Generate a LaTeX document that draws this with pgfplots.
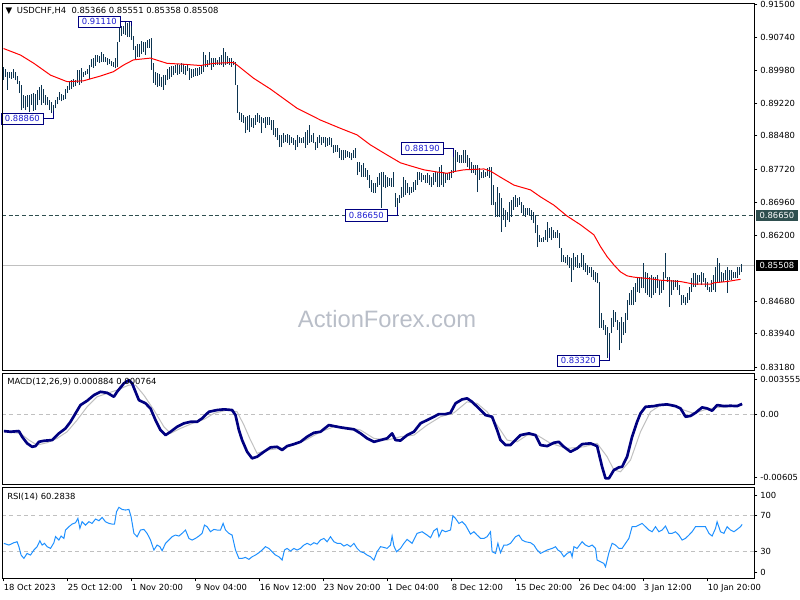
\documentclass[border=0pt]{standalone}
\usepackage{fontspec}
\setmainfont{DejaVu Sans}
\newfontfamily\wmfont{Liberation Sans}
\usepackage{pgfplots}
\usepackage{pgfplotstable}
\pgfplotsset{compat=1.18}
\definecolor{barcol}{RGB}{12,52,80}
\definecolor{macdcol}{RGB}{0,0,128}
\definecolor{sigcol}{RGB}{192,192,192}
\definecolor{rsicol}{RGB}{30,144,255}
\definecolor{lvlcol}{RGB}{47,79,79}
\definecolor{annotxt}{RGB}{30,30,210}
\definecolor{wmcol}{RGB}{185,190,200}
\newcommand\fs{\fontsize{6.3}{7.5}\selectfont}

\pgfplotstableread{
i hi lo
0 0.9006 0.8976
1 0.9002 0.8983
2 0.8995 0.8953
3 0.8995 0.8980
4 0.8995 0.8978
5 0.9001 0.8981
6 0.8995 0.8975
7 0.8985 0.8967
8 0.8974 0.8946
9 0.8965 0.8907
10 0.8941 0.8911
11 0.8939 0.8907
12 0.8941 0.8914
13 0.8941 0.8903
14 0.8944 0.8918
15 0.8946 0.8905
16 0.8944 0.8907
17 0.8953 0.8918
18 0.8960 0.8930
19 0.8964 0.8918
20 0.8955 0.8923
21 0.8941 0.8918
22 0.8937 0.8918
23 0.8930 0.8907
24 0.8925 0.8900
25 0.8918 0.8886
26 0.8930 0.8911
27 0.8937 0.8920
28 0.8948 0.8930
29 0.8944 0.8927
30 0.8941 0.8930
31 0.8955 0.8932
32 0.8962 0.8946
33 0.8971 0.8953
34 0.8976 0.8955
35 0.8978 0.8960
36 0.8976 0.8962
37 0.8999 0.8969
38 0.8999 0.8964
39 0.9004 0.8969
40 0.8994 0.8983
41 0.8996 0.8987
42 0.9001 0.8990
43 0.9010 0.8978
44 0.9024 0.9006
45 0.9026 0.9004
46 0.9033 0.9008
47 0.9033 0.9017
48 0.9031 0.9015
49 0.9040 0.9017
50 0.9036 0.9017
51 0.9029 0.9017
52 0.9026 0.9010
53 0.9024 0.9013
54 0.9019 0.9008
55 0.9017 0.9006
56 0.9026 0.9003
57 0.9063 0.9006
58 0.9107 0.9063
59 0.9100 0.9077
60 0.9100 0.9081
61 0.9109 0.9079
62 0.9107 0.9075
63 0.9109 0.9074
64 0.9111 0.9068
65 0.9077 0.9045
66 0.9054 0.9022
67 0.9059 0.9029
68 0.9059 0.9028
69 0.9065 0.9036
70 0.9063 0.9040
71 0.9063 0.9034
72 0.9068 0.9049
73 0.9070 0.9050
74 0.9072 0.8999
75 0.9015 0.8969
76 0.8994 0.8964
77 0.8992 0.8960
78 0.8990 0.8962
79 0.8983 0.8960
80 0.8987 0.8953
81 0.8987 0.8964
82 0.9001 0.8976
83 0.9006 0.8978
84 0.9008 0.8983
85 0.9008 0.8987
86 0.9010 0.8992
87 0.9013 0.8987
88 0.9010 0.8990
89 0.9015 0.8994
90 0.9013 0.8990
91 0.9008 0.8987
92 0.9013 0.8996
93 0.9003 0.8976
94 0.9001 0.8980
95 0.9001 0.8983
96 0.9003 0.8985
97 0.9003 0.8985
98 0.9006 0.8987
99 0.9010 0.8990
100 0.9040 0.8994
101 0.9033 0.9006
102 0.9022 0.9006
103 0.9040 0.9010
104 0.9026 0.8999
105 0.9026 0.9006
106 0.9026 0.9010
107 0.9022 0.9010
108 0.9029 0.9010
109 0.9033 0.9010
110 0.9049 0.9006
111 0.9040 0.9010
112 0.9031 0.9013
113 0.9026 0.9010
114 0.9026 0.9006
115 0.9019 0.9010
116 0.9017 0.8964
117 0.8964 0.8901
118 0.8902 0.8884
119 0.8900 0.8880
120 0.8896 0.8877
121 0.8890 0.8854
122 0.8893 0.8861
123 0.8896 0.8857
124 0.8889 0.8868
125 0.8889 0.8866
126 0.8896 0.8873
127 0.8900 0.8880
128 0.8896 0.8877
129 0.8890 0.8854
130 0.8889 0.8877
131 0.8890 0.8866
132 0.8890 0.8873
133 0.8890 0.8873
134 0.8884 0.8861
135 0.8884 0.8850
136 0.8866 0.8845
137 0.8866 0.8838
138 0.8850 0.8822
139 0.8850 0.8822
140 0.8854 0.8831
141 0.8850 0.8834
142 0.8852 0.8831
143 0.8850 0.8827
144 0.8845 0.8831
145 0.8843 0.8827
146 0.8838 0.8815
147 0.8850 0.8822
148 0.8845 0.8831
149 0.8843 0.8831
150 0.8845 0.8831
151 0.8857 0.8820
152 0.8861 0.8827
153 0.8873 0.8831
154 0.8850 0.8834
155 0.8854 0.8831
156 0.8834 0.8815
157 0.8845 0.8820
158 0.8850 0.8831
159 0.8845 0.8827
160 0.8845 0.8831
161 0.8845 0.8822
162 0.8843 0.8825
163 0.8845 0.8827
164 0.8843 0.8822
165 0.8827 0.8808
166 0.8827 0.8811
167 0.8827 0.8811
168 0.8820 0.8797
169 0.8815 0.8792
170 0.8815 0.8792
171 0.8815 0.8797
172 0.8813 0.8799
173 0.8811 0.8797
174 0.8808 0.8792
175 0.8815 0.8797
176 0.8820 0.8797
177 0.8788 0.8758
178 0.8788 0.8765
179 0.8781 0.8754
180 0.8786 0.8754
181 0.8774 0.8754
182 0.8770 0.8747
183 0.8758 0.8728
184 0.8747 0.8719
185 0.8740 0.8717
186 0.8740 0.8717
187 0.8754 0.8731
188 0.8763 0.8735
189 0.8765 0.8682
190 0.8765 0.8731
191 0.8758 0.8728
192 0.8754 0.8731
193 0.8751 0.8733
194 0.8751 0.8731
195 0.8765 0.8731
196 0.8717 0.8685
197 0.8705 0.8665
198 0.8712 0.8694
199 0.8731 0.8705
200 0.8754 0.8708
201 0.8747 0.8712
202 0.8740 0.8717
203 0.8731 0.8712
204 0.8731 0.8717
205 0.8742 0.8719
206 0.8747 0.8724
207 0.8765 0.8735
208 0.8765 0.8747
209 0.8763 0.8742
210 0.8758 0.8747
211 0.8758 0.8740
212 0.8763 0.8740
213 0.8758 0.8735
214 0.8754 0.8731
215 0.8763 0.8735
216 0.8765 0.8742
217 0.8765 0.8731
218 0.8776 0.8731
219 0.8781 0.8735
220 0.8765 0.8731
221 0.8763 0.8740
222 0.8763 0.8747
223 0.8765 0.8747
224 0.8770 0.8751
225 0.8819 0.8763
226 0.8815 0.8765
227 0.8811 0.8788
228 0.8804 0.8786
229 0.8804 0.8786
230 0.8815 0.8786
231 0.8815 0.8786
232 0.8804 0.8776
233 0.8797 0.8770
234 0.8788 0.8763
235 0.8781 0.8763
236 0.8781 0.8758
237 0.8781 0.8719
238 0.8774 0.8747
239 0.8765 0.8751
240 0.8770 0.8751
241 0.8765 0.8754
242 0.8774 0.8756
243 0.8776 0.8751
244 0.8776 0.8689
245 0.8735 0.8689
246 0.8696 0.8662
247 0.8731 0.8662
248 0.8717 0.8662
249 0.8705 0.8627
250 0.8682 0.8655
251 0.8678 0.8639
252 0.8673 0.8655
253 0.8696 0.8650
254 0.8701 0.8662
255 0.8708 0.8678
256 0.8712 0.8685
257 0.8705 0.8685
258 0.8708 0.8689
259 0.8696 0.8671
260 0.8689 0.8666
261 0.8682 0.8662
262 0.8682 0.8666
263 0.8682 0.8666
264 0.8678 0.8655
265 0.8673 0.8648
266 0.8666 0.8625
267 0.8644 0.8593
268 0.8621 0.8605
269 0.8614 0.8605
270 0.8616 0.8605
271 0.8632 0.8609
272 0.8650 0.8605
273 0.8637 0.8614
274 0.8639 0.8609
275 0.8632 0.8614
276 0.8627 0.8614
277 0.8632 0.8614
278 0.8625 0.8591
279 0.8591 0.8559
280 0.8575 0.8559
281 0.8570 0.8556
282 0.8575 0.8552
283 0.8570 0.8545
284 0.8568 0.8513
285 0.8579 0.8540
286 0.8570 0.8547
287 0.8575 0.8545
288 0.8556 0.8545
289 0.8579 0.8547
290 0.8575 0.8540
291 0.8556 0.8536
292 0.8552 0.8529
293 0.8547 0.8534
294 0.8547 0.8524
295 0.8540 0.8518
296 0.8536 0.8513
297 0.8534 0.8510
298 0.8513 0.8408
299 0.8442 0.8408
300 0.8426 0.8403
301 0.8415 0.8392
302 0.8410 0.8339
303 0.8396 0.8332
304 0.8430 0.8396
305 0.8449 0.8410
306 0.8444 0.8421
307 0.8426 0.8403
308 0.8421 0.8357
309 0.8433 0.8373
310 0.8421 0.8392
311 0.8442 0.8396
312 0.8472 0.8426
313 0.8488 0.8460
314 0.8495 0.8460
315 0.8501 0.8460
316 0.8511 0.8467
317 0.8524 0.8490
318 0.8522 0.8488
319 0.8524 0.8499
320 0.8556 0.8499
321 0.8536 0.8488
322 0.8534 0.8483
323 0.8524 0.8479
324 0.8529 0.8476
325 0.8524 0.8483
326 0.8524 0.8488
327 0.8529 0.8499
328 0.8518 0.8483
329 0.8518 0.8488
330 0.8536 0.8495
331 0.8579 0.8522
332 0.8524 0.8513
333 0.8524 0.8456
334 0.8518 0.8483
335 0.8518 0.8495
336 0.8518 0.8501
337 0.8518 0.8495
338 0.8506 0.8483
339 0.8483 0.8460
340 0.8483 0.8465
341 0.8479 0.8460
342 0.8488 0.8465
343 0.8501 0.8472
344 0.8522 0.8490
345 0.8534 0.8501
346 0.8534 0.8501
347 0.8529 0.8506
348 0.8529 0.8513
349 0.8536 0.8506
350 0.8534 0.8513
351 0.8522 0.8501
352 0.8513 0.8495
353 0.8501 0.8490
354 0.8518 0.8490
355 0.8529 0.8495
356 0.8547 0.8490
357 0.8568 0.8513
358 0.8556 0.8511
359 0.8536 0.8513
360 0.8534 0.8513
361 0.8540 0.8518
362 0.8547 0.8488
363 0.8540 0.8518
364 0.8540 0.8518
365 0.8536 0.8522
366 0.8536 0.8522
367 0.8547 0.8522
368 0.8547 0.8529
369 0.85551 0.85358
}\bars

\pgfplotstableread{
i v
0 0.9048
8.5 0.9033
15.2 0.9014
23.5 0.8987
31.8 0.8972
40 0.8974
48.5 0.8985
55 0.8995
60 0.9010
65 0.9022
73.5 0.9026
81.8 0.9014
90 0.9012
98.5 0.9009
105 0.9014
115 0.9016
116.8 0.9010
125 0.8980
133.5 0.8955
146.8 0.8911
158.5 0.8884
168.5 0.8865
176.8 0.8850
183.5 0.8827
191.8 0.8804
198.5 0.8786
203.5 0.8779
210.2 0.8770
216.8 0.8765
221.8 0.8762
225.2 0.8766
230.2 0.8770
240.2 0.8772
243.5 0.8767
248.5 0.8753
255.2 0.8735
263.5 0.8724
268.5 0.8708
275.2 0.8689
281.8 0.8664
288.5 0.8644
295.2 0.8621
298.5 0.8594
301.8 0.8571
305.2 0.8552
308.5 0.8536
311.8 0.8527
315.2 0.8524
321.8 0.8521
328.5 0.8517
338.5 0.8514
345.2 0.8508
353.5 0.8508
355.2 0.8511
361.8 0.8514
368.5 0.8519
}\ma

\pgfplotstableread{
i v
0.2 -0.00147
3.5 -0.00153
7.7 -0.00147
9.3 -0.00196
11.8 -0.00253
14.3 -0.00283
16 -0.00277
17.7 -0.00240
20.2 -0.00231
24.3 -0.00225
26 -0.00196
27.7 -0.00167
31 -0.00124
33.5 -0.00067
36 0.00006
38.5 0.00078
41.8 0.00115
45.2 0.00164
48.5 0.00193
51.8 0.00184
55.2 0.00150
56.8 0.00193
60.2 0.00266
62.7 0.00294
64.3 0.00266
66 0.00193
67.7 0.00121
71 0.00093
73.5 0.00049
76 -0.00052
78.5 -0.00138
81 -0.00182
83.5 -0.00153
86.8 -0.00110
90.2 -0.00080
93.5 -0.00067
96.8 -0.00067
99.3 -0.00037
102.7 0.00020
106.8 0.00035
110.2 0.00041
114.3 0.00035
116 -0.00009
117.7 -0.00138
119.3 -0.00225
121.8 -0.00326
124.3 -0.00383
126.8 -0.00369
130.2 -0.00326
133.5 -0.00288
136.8 -0.00283
139.3 -0.00311
141.8 -0.00277
145.2 -0.00260
148.5 -0.00240
151.8 -0.00196
155.2 -0.00162
158.5 -0.00153
162.7 -0.00095
165.2 -0.00104
168.5 -0.00115
171.8 -0.00124
175.2 -0.00132
178.5 -0.00167
181.8 -0.00210
185.2 -0.00240
188.5 -0.00225
191.8 -0.00210
194.3 -0.00167
196 -0.00225
198.5 -0.00229
201.8 -0.00182
205.2 -0.00153
208.5 -0.00080
211.8 -0.00052
215.2 -0.00023
217.7 0.00000
221 0.00000
223.5 0.00011
226 0.00093
229.3 0.00127
231.8 0.00136
234.3 0.00106
237.7 0.00049
241 -0.00009
244.3 -0.00023
246.8 -0.00138
248.5 -0.00225
251 -0.00268
253.5 -0.00268
256 -0.00225
258.5 -0.00182
262.7 -0.00167
266 -0.00182
268.5 -0.00268
271.8 -0.00277
275.2 -0.00248
277.7 -0.00240
280.2 -0.00283
283.5 -0.00326
286.8 -0.00297
289.3 -0.00260
293.5 -0.00253
296.8 -0.00277
299.3 -0.00456
301 -0.00556
302.7 -0.00556
305.2 -0.00484
307.7 -0.00461
309.3 -0.00456
311.8 -0.00369
314.3 -0.00196
316.8 -0.00067
318.5 0.00006
321 0.00063
325.2 0.00069
327.7 0.00078
331.8 0.00084
336 0.00069
338.5 0.00049
341 -0.00023
343.5 -0.00016
346 0.00011
349.3 0.00058
351.8 0.00049
354.3 0.00029
356.8 0.00078
360.2 0.00069
363.5 0.00072
366.8 0.00069
369.3 0.00088
}\macd

\pgfplotstableread{
i v
0.2 -0.00153
8.5 -0.00167
12.7 -0.00225
16.8 -0.00268
21.8 -0.00248
26.8 -0.00210
31.8 -0.00153
36.8 -0.00052
41.8 0.00063
46.8 0.00150
51.8 0.00179
56.8 0.00208
62.7 0.00251
66 0.00251
70.2 0.00164
75.2 0.00035
80.2 -0.00110
83.5 -0.00167
88.5 -0.00124
95.2 -0.00075
100.2 -0.00046
105.2 0.00006
111.8 0.00035
116.8 0.00020
120.2 -0.00095
123.5 -0.00225
126.8 -0.00340
131.8 -0.00311
138.5 -0.00297
145.2 -0.00268
151.8 -0.00219
158.5 -0.00153
165.2 -0.00110
171.8 -0.00115
178.5 -0.00138
185.2 -0.00210
191.8 -0.00225
198.5 -0.00196
205.2 -0.00182
211.8 -0.00095
218.5 -0.00023
225.2 0.00011
231.8 0.00106
236.8 0.00093
241.8 0.00020
246.8 -0.00095
251.8 -0.00225
256.8 -0.00240
261.8 -0.00182
266.8 -0.00182
273.5 -0.00253
281.8 -0.00297
290.2 -0.00283
296.8 -0.00253
301.8 -0.00369
305.2 -0.00484
308.5 -0.00499
313.5 -0.00398
318.5 -0.00153
323.5 0.00020
328.5 0.00078
335.2 0.00078
340.2 0.00035
345.2 0.00006
350.2 0.00035
356.8 0.00058
363.5 0.00063
369.3 0.00076
}\sig

\pgfplotstableread{
i v
0.2 39.3
2.7 37.4
5.2 40.0
6.8 41.1
7.7 35.6
8.8 26.3
10.2 22.6
11.8 28.1
13.5 26.3
15.2 31.9
16.8 35.6
18.2 42.2
19.3 37.4
20.5 39.3
21.8 35.6
23.5 33.7
25.2 40.0
26 46.7
27.7 43.0
28.8 47.4
30.2 44.8
31 54.1
32.7 57.8
34.3 60.7
36 62.2
37.2 67.0
38.2 55.9
39.3 63.3
41 59.6
42.7 63.3
44.3 61.5
46 66.3
47.7 64.4
49.3 68.1
51 63.3
52.7 61.5
54.3 60.7
55.5 60.7
56.5 74.4
57.7 79.3
59.3 77.0
61 76.3
62.7 77.0
63.8 68.9
65.2 50.4
66.8 46.7
68.5 54.1
70.2 54.8
71.8 50.4
73.5 43.0
75.2 31.9
76.8 37.4
78.2 35.6
79.3 31.1
81 39.3
82.7 43.0
84.3 46.7
86 48.5
87.7 47.4
89.3 50.4
91 54.1
92.7 44.8
94.3 43.0
96 44.8
97.7 47.4
99.3 50.4
100.5 59.6
101.8 57.8
103.5 52.2
105.2 54.8
106.8 54.1
108.5 54.1
109.8 61.5
111 54.1
112.7 50.4
114.3 48.5
116 31.9
117.7 22.6
119.3 22.6
121 23.7
122.7 21.5
124.3 24.4
126 26.3
127.7 28.9
129.3 31.9
131 35.6
132.7 33.7
134.3 30.0
136 26.3
137.7 24.4
139.3 20.7
140.5 31.9
141.8 33.7
143.5 30.7
145.2 33.7
146.8 31.9
148.5 33.7
150.2 37.4
151.8 39.3
153.5 37.4
155.2 40.0
156.8 38.5
158.5 43.0
160.2 44.8
161.8 41.1
163.5 46.7
165.2 41.1
166.8 39.3
168.5 39.3
170.2 36.3
171.8 38.1
173.5 35.6
175.2 39.3
176.8 33.7
178.5 30.0
180.2 28.9
181.8 26.3
183.5 24.4
185.2 20.7
186.8 30.0
188.5 35.6
190.2 34.8
191.8 33.7
193.5 37.4
194.3 47.4
195.2 36.3
196.5 30.0
198.5 33.7
200.2 39.3
201.8 43.7
204.3 39.3
206.8 50.4
209.3 52.2
211.8 48.5
213.5 45.6
215.2 53.3
216.8 55.9
217.7 46.7
219.3 54.1
221 52.2
223.5 54.1
224.7 70.0
226 67.0
227.7 61.5
229.3 63.3
231 59.6
233.5 49.6
235.2 52.2
236.8 48.5
238.5 44.8
240.2 44.8
241.8 46.7
243.5 52.2
244.3 30.0
246 28.1
247.2 39.3
248.5 28.9
250.2 37.4
251.8 37.4
253.5 39.3
256 46.7
257.7 48.5
259.3 43.0
261 41.1
263.5 40.0
265.2 37.4
266.8 31.9
268.5 28.1
270.2 30.0
271.8 31.9
274.3 33.7
276 35.6
277.2 31.9
278.5 30.0
280.2 24.4
281.8 28.1
283.5 30.0
284.3 24.4
285.2 35.6
286.8 33.7
289.3 41.1
291 37.4
292.7 35.6
294.3 37.4
296 33.7
296.8 20.7
298.5 18.9
300.2 17.0
301 13.3
302.7 28.9
304.3 39.3
306 37.4
307.7 33.7
309.3 33.7
311 39.3
312.7 44.8
314.3 57.8
316 57.8
317.7 59.6
319.3 61.5
321 57.8
322.7 54.1
324.3 52.2
326 57.8
327.7 52.2
329.3 54.1
331 58.5
332.7 50.4
334.3 50.4
336 52.2
337.7 48.5
339.3 43.0
341 44.8
342.7 48.5
344.3 52.2
346 57.8
347.7 57.8
349.3 57.8
351 57.8
352.7 50.4
354.3 47.4
356 55.9
356.8 63.3
358.5 52.2
360.2 50.4
361.8 57.8
363.5 54.1
365.2 52.2
366.8 54.8
368.5 57.8
369.3 60.3
}\rsi

\pgfplotsset{
  mt/.style={
    scale only axis, width=564pt, xmin=-0.75, xmax=375.25,
    axis line style={line width=0.75pt, black},
    xtick=\empty, ytick pos=right, yticklabel pos=right,
    tick align=outside, major tick length=2.5pt,
    tick style={line width=0.6pt, black},
    scaled ticks=false,
    yticklabel style={font=\fs, inner sep=0pt, xshift=2pt},
    clip mode=individual, axis on top,
  },
}
\tikzset{
  annot/.style={draw=macdcol, line width=0.75pt, fill=white, text=annotxt,
    font=\fs, inner sep=0pt, minimum width=31pt, minimum height=8.6pt, anchor=east},
}

\begin{document}
\begin{tikzpicture}
\useasboundingbox (0,0) rectangle (600pt,-450pt);

% ---------------- main price panel ----------------
\begin{axis}[mt, at={(1.5pt,-2.25pt)}, anchor=north west, height=275.25pt,
  ymin=0.83112, ymax=0.91523,
  ytick={0.915,0.9074,0.8998,0.8922,0.8848,0.8772,0.8696,0.8620,0.8468,0.8394,0.8318},
  yticklabels={0.91500,0.90740,0.89980,0.89220,0.88480,0.87720,0.86960,0.86200,0.84680,0.83940,0.83180}]
\node[text=wmcol, font=\wmfont\fontsize{17.8}{20}\selectfont] at (rel axis cs:0.512,0.139) {ActionForex.com};
\addplot[lvlcol, line width=0.75pt, dash pattern=on 3pt off 2pt] coordinates {(-0.75,0.8665) (375.25,0.8665)};
\addplot[sigcol, line width=0.75pt] coordinates {(-0.75,0.85508) (375.25,0.85508)};
\addplot[draw=none, mark=none, error bars/.cd, y dir=plus, y explicit, error mark=none,
  error bar style={draw=barcol, line width=0.9pt, solid}]
  table[x=i, y=lo, y error expr=\thisrow{hi}-\thisrow{lo}] {\bars};
\addplot[red, line width=0.75pt] table[x=i, y=v] {\ma};
% annotations
\draw[macdcol, line width=0.75pt] (axis cs:58.5,0.9109) -- (axis cs:64,0.9109) -- (axis cs:64,0.9100);
\node[annot] at (axis cs:58.5,0.9109) {0.91110};
\draw[macdcol, line width=0.75pt] (axis cs:20,0.8887) -- (axis cs:25,0.8887) -- (axis cs:25,0.8905);
\node[annot] at (axis cs:20,0.8887) {0.88860};
\draw[macdcol, line width=0.75pt] (axis cs:220,0.8819) -- (axis cs:225,0.8819) -- (axis cs:225,0.8800);
\node[annot] at (axis cs:220,0.8819) {0.88190};
\draw[macdcol, line width=0.75pt] (axis cs:192,0.8665) -- (axis cs:197,0.8665) -- (axis cs:197,0.8685);
\node[annot] at (axis cs:192,0.8665) {0.86650};
\draw[macdcol, line width=0.75pt] (axis cs:298,0.8332) -- (axis cs:303,0.8332) -- (axis cs:303,0.8350);
\node[annot] at (axis cs:298,0.8332) {0.83320};
% right price boxes
\node[fill=lvlcol, text=white, font=\fs, inner sep=0pt, minimum width=31pt, minimum height=8pt, anchor=west]
  at ([xshift=1.5pt]axis cs:375.25,0.8665) {0.86650};
\node[fill=black, text=white, font=\fs, inner sep=0pt, minimum width=31pt, minimum height=8pt, anchor=west]
  at ([xshift=1.5pt]axis cs:375.25,0.85508) {0.85508};
% title
\node[anchor=west, font=\fs, inner sep=0pt] at ([xshift=2.5pt,yshift=-5.6pt]rel axis cs:0,1)
  {{\fontsize{6.5}{7}\selectfont ▼}\hspace{3.5pt}USDCHF,H4\hspace{4pt}0.85366 0.85551 0.85358 0.85508};
\end{axis}

% ---------------- MACD panel ----------------
\begin{axis}[mt, at={(1.5pt,-279.75pt)}, anchor=north west, height=83.25pt,
  ymin=-0.00605, ymax=0.003555,
  ytick={0.003,0,-0.0055}, yticklabels={0.003555,0.00,-0.00605}]
\addplot[sigcol, line width=0.75pt, dash pattern=on 3pt off 2.5pt] coordinates {(-0.75,0) (375.25,0)};
\addplot[sigcol, line width=0.75pt] table[x=i, y=v] {\sig};
\addplot[macdcol, line width=2pt, line join=round] table[x=i, y=v] {\macd};
\node[anchor=west, font=\fs, inner sep=0pt] at ([xshift=3.75pt,yshift=-6.5pt]rel axis cs:0,1)
  {MACD(12,26,9) 0.000884 0.000764};
\end{axis}

% ---------------- RSI panel ----------------
\begin{axis}[mt, at={(1.5pt,-365.25pt)}, anchor=north west, height=68.25pt,
  ymin=0.8, ymax=101.9,
  ytick={7.3,30,70,93}, yticklabels={0,30,70,100},
  xtick={0,32,64,96,128,160,192,224,256,288,320,352},
  xticklabels={18 Oct 2023,25 Oct 12:00,1 Nov 20:00,9 Nov 04:00,16 Nov 12:00,23 Nov 20:00,1 Dec 04:00,8 Dec 12:00,15 Dec 20:00,26 Dec 04:00,3 Jan 12:00,10 Jan 20:00},
  xtick pos=left,
  xticklabel style={font=\fs, anchor=north west, inner sep=0pt, xshift=0pt, yshift=-2pt}]
\addplot[sigcol, line width=0.75pt, dash pattern=on 3pt off 2.5pt] coordinates {(-0.75,70) (375.25,70)};
\addplot[sigcol, line width=0.75pt, dash pattern=on 3pt off 2.5pt] coordinates {(-0.75,30) (375.25,30)};
\addplot[rsicol, line width=0.75pt] table[x=i, y=v] {\rsi};
\node[anchor=west, font=\fs, inner sep=0pt] at ([xshift=3.75pt,yshift=-7.5pt]rel axis cs:0,1)
  {RSI(14) 60.2838};
\end{axis}
\end{tikzpicture}
\end{document}
